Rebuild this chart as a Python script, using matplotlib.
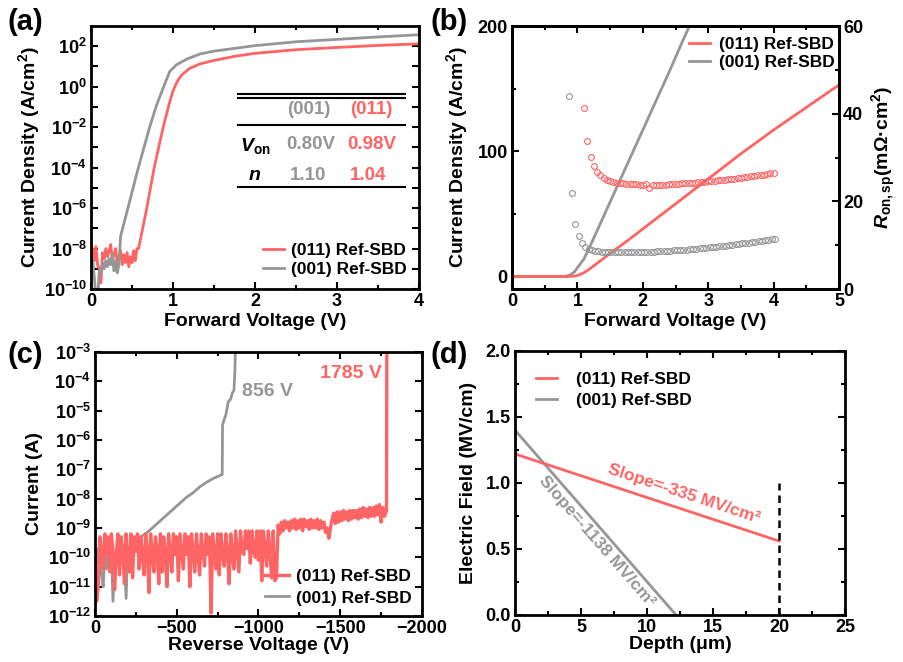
import numpy as np
import matplotlib
matplotlib.use('Agg')
import matplotlib.pyplot as plt
from matplotlib.ticker import FixedLocator, MultipleLocator, NullLocator, FuncFormatter

RED = '#FF6464'
GRAY = '#969696'

# ---------------- (a) forward J-V, log scale (values are log10 J) ----------------
a_red_v_noise = np.linspace(0.02, 0.56, 28)
a_red_noise = [-8.0, -8.6, -7.9, -8.8, -9.0, -9.7, -8.2, -8.5, -8.0, -8.4, -8.1, -7.8, -8.6, -8.3,
               -8.0, -8.7, -8.4, -8.1, -8.8, -8.3, -8.7, -8.2, -8.9, -8.4, -8.7, -8.1, -8.6, -8.0]
a_red_v_rise = [0.58, 0.68, 0.77, 0.88, 0.95, 1.0, 1.05, 1.1, 1.2, 1.33, 1.5, 1.75, 2.0, 2.5, 3.0, 3.5, 4.0]
a_red_rise = [-8.0, -6.0, -4.0, -2.0, -0.9, -0.2, 0.25, 0.55, 0.9, 1.13, 1.3, 1.5, 1.65, 1.83, 1.94, 2.04, 2.12]

a_gray_v_noise = np.linspace(0.02, 0.34, 17)
a_gray_noise = [-8.6, -9.4, -10.5, -10.5, -9.1, -9.2, -8.7, -9.0, -8.6, -8.9, -8.5, -8.8, -8.3, -9.1,
                -8.6, -9.2, -8.8]
a_gray_v_rise = [0.36, 0.45, 0.577, 0.715, 0.8, 0.886, 0.96, 1.04, 1.17, 1.33, 1.5, 2.0, 2.5, 3.0, 3.5, 4.0]
a_gray_rise = [-7.4, -6.0, -4.0, -2.0, -0.9, 0.0, 0.75, 1.08, 1.37, 1.62, 1.76, 2.03, 2.22, 2.34, 2.46, 2.57]

# ---------------- (b) forward J-V, linear + Ron,sp ----------------
b_red_v = [0, 0.85, 0.95, 1.0, 1.1, 1.2, 1.3, 1.4, 1.5, 1.75, 2.0, 2.5, 3.0, 3.5, 4.0, 4.5, 5.0]
b_red_j = [0, 0, 0.3, 0.8, 3, 6.5, 10.5, 14.5, 18.5, 28, 38, 58, 78, 98, 117, 135, 153]
b_gray_v = [0, 0.8, 0.88, 0.95, 1.0, 1.1, 1.2, 1.4, 1.6, 1.8, 2.0, 2.2, 2.4, 2.6, 2.8]
b_gray_j = [0, 0, 1, 3.5, 7, 14, 25, 48, 71, 94, 117, 140, 163, 187, 210]

b_red_r_v = np.linspace(1.10, 4.00, 59)
b_red_r = [41.2, 33.8, 30.2, 28.1, 26.8, 25.9, 25.3, 24.9, 24.6,
           24.4, 24.3, 24.2, 24.1, 24.0, 24.0, 23.9, 23.9, 23.8, 23.8,
           23.9, 23.0, 23.7, 23.7, 23.8, 23.8, 23.8, 23.9, 23.9, 24.0,
           24.0, 24.1, 24.1, 24.2, 24.2, 24.3, 24.4, 24.4, 24.5, 24.6,
           24.6, 24.7, 24.8, 24.8, 24.9, 25.0, 25.1, 25.2, 25.3, 25.4,
           25.5, 25.6, 25.7, 25.8, 25.9, 26.0, 26.1, 26.2, 26.4, 26.4]
b_gray_r_v = np.linspace(0.87, 4.02, 64)
b_gray_r = [44.0, 21.8, 14.9, 12.2, 10.6, 9.7, 9.2, 8.9, 8.7, 8.6,
            8.5, 8.5, 8.4, 8.4, 8.4, 8.4, 8.4, 8.4, 8.4, 8.4,
            8.4, 8.4, 8.5, 8.5, 8.5, 8.5, 8.5, 8.6, 8.6, 8.6,
            8.7, 8.7, 8.8, 8.8, 8.9, 8.9, 9.0, 9.1, 9.1, 9.2,
            9.3, 9.3, 9.4, 9.5, 9.6, 9.7, 9.8, 9.9, 9.9, 10.0,
            10.1, 10.2, 10.3, 10.4, 10.5, 10.6, 10.7, 10.8, 10.9, 11.0,
            11.1, 11.2, 11.3, 11.4]

# ---------------- (c) reverse I-V (values are log10 I) ----------------
c_red_v1 = np.arange(0, -1120, -10)
c_red_i1 = [-9.9, -11.5, -11.0, -9.3, -9.8, -10.4, -9.2, -9.9, -9.3, -10.5,
            -9.2, -9.8, -11.1, -9.9, -9.2, -10.6, -9.3, -9.8, -10.9, -9.2,
            -9.9, -10.5, -9.2, -10.7, -9.3, -9.8, -9.2, -10.4, -9.3, -9.9,
            -10.6, -9.2, -9.8, -11.2, -9.2, -9.9, -10.5, -9.3, -9.8, -10.9,
            -9.2, -10.5, -9.3, -9.9, -11.0, -9.2, -9.8, -10.5, -9.2, -9.9,
            -9.3, -10.8, -9.2, -9.8, -10.4, -9.2, -9.9, -9.3, -11.0, -9.2,
            -9.8, -10.5, -9.2, -9.9, -10.6, -9.2, -9.8, -10.3, -9.2, -9.9,
            -9.3, -11.9, -9.2, -9.8, -10.4, -9.2, -10.6, -9.2, -9.9, -10.3,
            -9.2, -9.8, -10.9, -9.2, -9.9, -10.4, -9.1, -9.8, -10.5, -9.1,
            -9.8, -9.9, -9.1, -9.7, -9.1, -10.2, -9.1, -9.8, -10.0, -9.1,
            -10.1, -9.1, -10.8, -9.1, -9.7, -10.3, -9.1, -9.8, -10.7, -9.1,
            -10.8, -10.7]
c_red_v2 = np.arange(-1120, -1790, -10)
c_red_i2 = [-8.9, -9.2, -8.8, -9.1, -8.75, -9.0, -8.8, -9.1, -8.75, -9.0,
            -8.7, -9.05, -8.75, -9.0, -8.7, -9.1, -8.7, -8.95, -8.75, -9.05,
            -8.7, -9.0, -8.75, -9.0, -8.7, -9.05, -8.75, -9.0, -8.8, -9.15,
            -9.0, -9.35, -9.0, -8.7, -8.5, -8.85, -8.45, -8.8, -8.45, -8.75,
            -8.4, -8.7, -8.45, -8.75, -8.4, -8.7, -8.4, -8.65, -8.4, -8.7,
            -8.35, -8.65, -8.3, -8.6, -8.35, -8.65, -8.3, -8.6, -8.3, -8.6,
            -8.25, -8.55, -8.2, -8.8, -8.3, -8.6, -8.45]
c_red_v3 = [-1783, -1785]
c_red_i3 = [-8.4, -2.5]

c_gray_v1 = np.arange(0, -280, -10)
c_gray_i1 = [-9.8, -10.2, -9.7, -10.3, -10.6, -11.0, -9.9, -10.4, -9.8, -10.2,
             -9.8, -11.5, -9.9, -10.3, -9.8, -10.1, -9.7, -10.2, -9.8, -11.4,
             -9.7, -10.1, -9.6, -9.9, -9.5, -9.8, -9.4, -9.5]
c_gray_v2 = [-280, -320, -360, -400, -440, -480, -520, -560, -600, -640, -680, -720, -760,
             -778, -780, -790, -800, -815, -830, -840, -850, -856, -860]
c_gray_i2 = [-9.3, -9.15, -8.95, -8.75, -8.55, -8.35, -8.15, -7.95, -7.8, -7.6, -7.45, -7.32, -7.22,
             -7.18, -5.5, -5.3, -5.15, -4.7, -4.6, -4.4, -4.3, -3.6, -2.5]

# ---------------- (d) electric field profile ----------------
d_red_x = [0, 20]
d_red_e = [1.22, 0.56]
d_gray_x = [0, 12.2]
d_gray_e = [1.40, 0.0]
d_punch_x = [20, 20]
d_punch_e = [0.0, 1.0]

LABELS = ['(011) Ref-SBD', '(001) Ref-SBD']

plt.rcParams['font.family'] = 'Liberation Sans'
plt.rcParams['font.weight'] = 'bold'
plt.rcParams['axes.labelweight'] = 'bold'
plt.rcParams['mathtext.fontset'] = 'custom'
plt.rcParams['mathtext.rm'] = 'Liberation Sans:bold'
plt.rcParams['mathtext.it'] = 'Liberation Sans:italic:bold'
plt.rcParams['mathtext.bf'] = 'Liberation Sans:bold'
plt.rcParams['mathtext.default'] = 'rm'
plt.rcParams['axes.linewidth'] = 2.0

LW = 2.0


def style(ax, right=True):
    ax.tick_params(which='both', direction='in', top=True, right=right, labelsize=13, width=1.5, pad=3)
    ax.tick_params(which='major', length=5)
    ax.tick_params(which='minor', length=3)


def legend(ax, handles, **kw):
    opts = dict(frameon=False, fontsize=12.5, handlelength=1.2, handletextpad=0.4, labelspacing=0.2)
    opts.update(kw)
    ax.legend(handles, LABELS, **opts)


def log_fmt(step):
    def f(v, pos):
        e = int(round(np.log10(v)))
        if e % step:
            return ''
        return r'$10^{%d}$' % e
    return FuncFormatter(f)


fig = plt.figure(figsize=(9.04, 6.62), dpi=100)

# ---- (a)
ax = fig.add_axes([0.1007, 0.5634, 0.3628, 0.3973])
lr, = ax.plot(np.concatenate([a_red_v_noise, a_red_v_rise]),
              10 ** np.array(a_red_noise + a_red_rise), color=RED, lw=LW)
lg, = ax.plot(np.concatenate([a_gray_v_noise, a_gray_v_rise]),
              10 ** np.array(a_gray_noise + a_gray_rise), color=GRAY, lw=LW)
ax.set_yscale('log')
ax.set_xlim(0, 4)
ax.set_ylim(1e-10, 1e3)
ax.xaxis.set_major_locator(MultipleLocator(1))
ax.xaxis.set_minor_locator(MultipleLocator(0.5))
ax.yaxis.set_major_locator(FixedLocator([10.0 ** e for e in range(-10, 3)]))
ax.yaxis.set_major_formatter(log_fmt(2))
ax.yaxis.set_minor_locator(NullLocator())
style(ax)
ax.set_xlabel('Forward Voltage (V)', fontsize=14, labelpad=2)
ax.set_ylabel('Current Density (A/cm$^2$)', fontsize=14)
ax.yaxis.set_label_coords(-0.15, 0.5)
legend(ax, [lr, lg], loc='lower right', bbox_to_anchor=(1.0, 0.0), borderaxespad=0.3)
# parameter table
for yy in (0.743, 0.728, 0.622, 0.388):
    ax.plot([0.448, 0.957], [yy, yy], transform=ax.transAxes, color='black', lw=1.5)
ax.text(0.665, 0.681, '(001)', color=GRAY, fontsize=13.5, ha='center', va='center', transform=ax.transAxes)
ax.text(0.854, 0.681, '(011)', color=RED, fontsize=13.5, ha='center', va='center', transform=ax.transAxes)
ax.text(0.50, 0.545, r'$\mathit{V}_{\mathrm{on}}$', fontsize=14, ha='center', va='center', transform=ax.transAxes)
ax.text(0.671, 0.548, '0.80V', color=GRAY, fontsize=13.5, ha='center', va='center', transform=ax.transAxes)
ax.text(0.857, 0.548, '0.98V', color=RED, fontsize=13.5, ha='center', va='center', transform=ax.transAxes)
ax.text(0.50, 0.43, r'$\mathit{n}$', fontsize=14, ha='center', va='center', transform=ax.transAxes)
ax.text(0.662, 0.43, '1.10', color=GRAY, fontsize=13.5, ha='center', va='center', transform=ax.transAxes)
ax.text(0.845, 0.43, '1.04', color=RED, fontsize=13.5, ha='center', va='center', transform=ax.transAxes)

# ---- (b)
ax = fig.add_axes([0.5664, 0.5634, 0.3617, 0.3973])
lg, = ax.plot(b_gray_v, b_gray_j, color=GRAY, lw=LW)
lr, = ax.plot(b_red_v, b_red_j, color=RED, lw=LW)
ax.set_xlim(0, 5)
ax.set_ylim(-10, 200)
ax.xaxis.set_major_locator(MultipleLocator(1))
ax.xaxis.set_minor_locator(MultipleLocator(0.5))
ax.yaxis.set_major_locator(MultipleLocator(100))
ax.yaxis.set_minor_locator(MultipleLocator(50))
style(ax, right=False)
ax.set_xlabel('Forward Voltage (V)', fontsize=14, labelpad=2)
ax.set_ylabel('Current Density (A/cm$^2$)', fontsize=14)
ax.yaxis.set_label_coords(-0.13, 0.5)
legend(ax, [lr, lg], loc='upper right', bbox_to_anchor=(1.02, 1.0), borderaxespad=0.2, handletextpad=0.55)
ax2 = ax.twinx()
ax2.plot(b_red_r_v, b_red_r, 'o', mfc='none', mec=RED, ms=4.2, mew=0.8)
ax2.plot(b_gray_r_v, b_gray_r, 'o', mfc='none', mec=GRAY, ms=4.2, mew=0.8)
ax2.set_ylim(0, 60)
ax2.yaxis.set_major_locator(MultipleLocator(20))
ax2.yaxis.set_minor_locator(MultipleLocator(10))
ax2.tick_params(which='both', direction='in', labelsize=13, width=1.5, pad=3)
ax2.tick_params(which='major', length=5)
ax2.tick_params(which='minor', length=3)
ax2.set_ylabel(r'$\mathit{R}_{\mathrm{on,sp}}$(mΩ·cm$^2$)', fontsize=14)
ax2.yaxis.set_label_coords(1.095, 0.5)

# ---- (c)
ax = fig.add_axes([0.1051, 0.0695, 0.3617, 0.3988])
lg, = ax.plot(np.concatenate([c_gray_v1, c_gray_v2]),
              10 ** np.array(c_gray_i1 + c_gray_i2), color=GRAY, lw=LW)
lr, = ax.plot(np.concatenate([c_red_v1, c_red_v2, c_red_v3]),
              10 ** np.array(c_red_i1 + c_red_i2 + c_red_i3), color=RED, lw=2.4)
ax.set_yscale('log')
ax.set_xlim(0, -2000)
ax.set_ylim(1e-12, 1e-3)
ax.xaxis.set_major_locator(MultipleLocator(500))
ax.xaxis.set_minor_locator(MultipleLocator(250))
ax.yaxis.set_major_locator(FixedLocator([10.0 ** e for e in range(-12, -2)]))
ax.yaxis.set_major_formatter(log_fmt(1))
ax.yaxis.set_minor_locator(NullLocator())
style(ax)
ax.set_xlabel('Reverse Voltage (V)', fontsize=14, labelpad=0)
ax.set_ylabel('Current (A)', fontsize=14)
ax.yaxis.set_label_coords(-0.16, 0.5)
ax.text(-1566, 10 ** -3.72, '1785 V', color=RED, fontsize=14, ha='center', va='center')
ax.text(-1052, 10 ** -4.36, '856 V', color=GRAY, fontsize=14, ha='center', va='center')
legend(ax, [lr, lg], loc='lower right', bbox_to_anchor=(1.0, 0.0), borderaxespad=0.2,
       handlelength=1.4, labelspacing=0.35)

# ---- (d)
ax = fig.add_axes([0.5697, 0.0710, 0.365, 0.3988])
lg, = ax.plot(d_gray_x, d_gray_e, color=GRAY, lw=LW)
lr, = ax.plot(d_red_x, d_red_e, color=RED, lw=LW)
ax.plot(d_punch_x, d_punch_e, color='black', lw=1.8, ls=(0, (3, 2)))
ax.set_xlim(0, 25)
ax.set_ylim(0, 2)
ax.xaxis.set_major_locator(MultipleLocator(5))
ax.xaxis.set_minor_locator(MultipleLocator(2.5))
ax.yaxis.set_major_locator(MultipleLocator(0.5))
ax.yaxis.set_minor_locator(MultipleLocator(0.25))
ax.yaxis.set_major_formatter(FuncFormatter(lambda v, p: '%.1f' % v))
style(ax)
ax.set_xlabel('Depth (μm)', fontsize=14, labelpad=0)
ax.set_ylabel('Electric Field (MV/cm)', fontsize=14)
ax.yaxis.set_label_coords(-0.115, 0.5)
ax.text(12.8, 0.92, 'Slope=-335 MV/cm²', color=RED, fontsize=12.5, rotation=-18.3,
        rotation_mode='anchor', ha='center', va='center')
ax.text(6.2, 0.56, 'Slope=-1138 MV/cm²', color=GRAY, fontsize=12.5, rotation=-48.9,
        rotation_mode='anchor', ha='center', va='center')
legend(ax, [lr, lg], loc='upper left', bbox_to_anchor=(0.0, 1.0), borderaxespad=0.8,
       handletextpad=1.1, labelspacing=0.35)

# panel labels
for lab, x, y in [('(a)', 0.008, 0.967), ('(b)', 0.476, 0.967), ('(c)', 0.008, 0.464), ('(d)', 0.476, 0.464)]:
    fig.text(x, y, lab, fontsize=21, fontweight='bold', ha='left', va='center')

fig.savefig('out.png', dpi=100)
